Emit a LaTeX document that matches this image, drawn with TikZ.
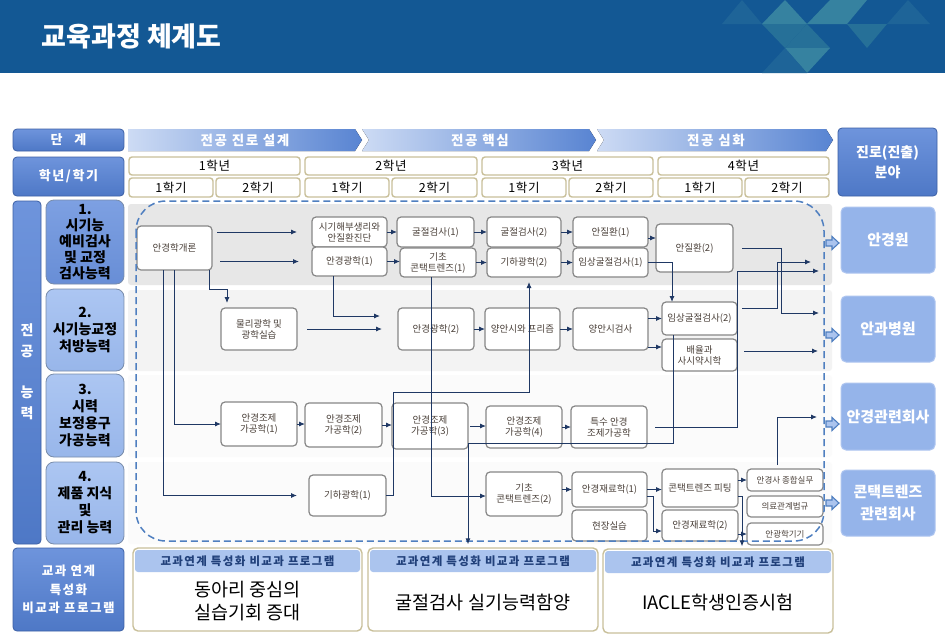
\documentclass[tikz,border=0pt]{standalone}
\usepackage{fontspec}
\setmainfont{Noto Sans CJK KR}
\newfontfamily\wideKR{Noto Sans CJK KR}[LetterSpace=12]
\newfontfamily\lwideKR{Noto Sans CJK KR}[LetterSpace=5]
\usetikzlibrary{arrows.meta,calc}
\definecolor{hdrblue}{RGB}{19,88,148}
\definecolor{decoA}{RGB}{54,130,160}
\definecolor{decoB}{RGB}{38,112,152}
\definecolor{decoC}{RGB}{30,100,152}
\definecolor{navy}{RGB}{31,56,100}
\definecolor{boxblue}{RGB}{78,120,198}
\definecolor{boxblueL}{RGB}{110,148,220}
\definecolor{boxblueD}{RGB}{60,96,165}
\definecolor{compone}{RGB}{104,142,214}
\definecolor{componeL}{RGB}{125,160,226}
\definecolor{comptwo}{RGB}{152,182,234}
\definecolor{comptwoL}{RGB}{172,198,242}
\definecolor{compB}{RGB}{120,140,170}
\definecolor{destc}{RGB}{149,180,234}
\definecolor{destB}{RGB}{175,198,240}
\definecolor{tanb}{RGB}{201,192,154}
\definecolor{cgray}{RGB}{135,135,135}
\definecolor{ctext}{RGB}{75,65,58}
\definecolor{dashblue}{RGB}{79,127,192}
\definecolor{prghdr}{RGB}{171,196,238}
\definecolor{prgtext}{RGB}{33,64,122}
\definecolor{bandone}{RGB}{231,231,231}
\definecolor{bandtwo}{RGB}{243,243,243}
\definecolor{bandthree}{RGB}{251,251,251}
\definecolor{chevL}{RGB}{205,219,244}
\definecolor{chevR}{RGB}{88,132,210}
\tikzset{
 course/.style={draw=cgray,line width=1.2pt,fill=white,rounded corners=4pt,inner sep=0pt,outer sep=0pt,align=center,text=ctext,font=\fontsize{9.5}{11}\selectfont},
 smallc/.style={course,font=\fontsize{8.5}{10}\selectfont},
 arr/.style={draw=navy,line width=0.9pt,-{Latex[length=6pt,width=5pt]}},
 hbox/.style={draw=boxblueD,line width=0.8pt,rounded corners=4pt,top color=boxblueL,bottom color=boxblue,text=white,font=\wideKR\bfseries\fontsize{13}{16}\selectfont,align=center,inner sep=0pt},
 ybox/.style={draw=tanb,line width=1.4pt,fill=white,rounded corners=3pt,inner sep=0pt,font=\lwideKR\fontsize{12.5}{14}\selectfont},
 comp/.style={draw=compB,line width=0.8pt,rounded corners=8pt,inner sep=0pt,align=center,font=\bfseries\fontsize{14}{17}\selectfont},
 dest/.style={draw=destB,fill=destc,line width=1pt,rounded corners=5pt,text=white,align=center,inner sep=0pt,font=\bfseries\fontsize{15}{22}\selectfont},
 prog/.style={draw=tanb,line width=1.4pt,fill=white,rounded corners=5pt,inner sep=0pt},
 chevtext/.style={text=white,font=\wideKR\bfseries\fontsize{13.5}{15}\selectfont},
 prghead/.style={text=prgtext,font=\wideKR\bfseries\fontsize{11.5}{13}\selectfont},
 prgbody/.style={text=black,align=center,font=\fontsize{18.5}{23}\selectfont},
}
\newcommand\bx[7]{\node[#1,minimum width={(#5-#3)*1pt},minimum height={(#6-#4)*1pt}] (#2) at ({(#3+#5)/2},{(#4+#6)/2}) {#7};}
\begin{document}
\begin{tikzpicture}[x=1pt,y=-1pt]
\useasboundingbox (0,0) rectangle (945,640);
\fill[white] (0,0) rectangle (945,640);
% header bar
\fill[hdrblue] (0,0) rectangle (945,73);
\fill[decoC] (722,24) -- (762,24) -- (742,0) -- cycle;
\fill[decoA] (762,24) -- (807,24) -- (785,0) -- cycle;
\fill[decoB] (762,24) -- (807,24) -- (785,48) -- cycle;
\fill[decoA] (807,24) -- (830,0) -- (867,0) -- (847,24) -- cycle;
\fill[decoB] (847,24) -- (887,24) -- (867,48) -- cycle;
\fill[decoB] (785,48) -- (830,48) -- (807,24) -- cycle;
\fill[decoA] (785,48) -- (830,48) -- (807,73) -- cycle;
\fill[decoC] (762,73) -- (785,48) -- (807,73) -- cycle;
\fill[decoC] (887,24) -- (930,24) -- (908,0) -- cycle;
\node[anchor=west,text=white,font=\bfseries\fontsize{27}{30}\selectfont] (title) at (38,36) {교육과정 체계도};
% stage row
\bx{hbox}{hstage}{13}{129}{124}{151}{단\hspace{12pt}계}
\fill[left color=chevL,right color=chevR] (128,129) -- (355,129) -- (362,140) -- (355,151) -- (128,151) -- cycle;
\fill[left color=chevL,right color=chevR] (362,129) -- (589,129) -- (596,140) -- (589,151) -- (362,151) -- (369,140) -- cycle;
\fill[left color=chevL,right color=chevR] (597,129) -- (826,129) -- (833,140) -- (826,151) -- (597,151) -- (604,140) -- cycle;
\node[chevtext] (st1) at (245,140) {전공 진로 설계};
\node[chevtext] (st2) at (480,140) {전공 핵심};
\node[chevtext] (st3) at (716,140) {전공 심화};
\bx{hbox,font=\bfseries\fontsize{14}{20}\selectfont}{hcareer}{838}{128}{937}{196}{진로(진출)\\분야}
% year row
\bx{hbox}{hyear}{13}{157}{124}{196}{학년/학기}
\bx{ybox}{ya}{129}{157}{300}{175}{1학년}
\bx{ybox}{yb}{305}{157}{477}{175}{2학년}
\bx{ybox}{yc}{482}{157}{653}{175}{3학년}
\bx{ybox}{yd}{658}{157}{829}{175}{4학년}
\bx{ybox}{sa}{129}{178}{213}{197}{1학기}
\bx{ybox}{sb}{216}{178}{300}{197}{2학기}
\bx{ybox}{sc}{305}{178}{389}{197}{1학기}
\bx{ybox}{sd}{392}{178}{477}{197}{2학기}
\bx{ybox}{se}{482}{178}{566}{197}{1학기}
\bx{ybox}{sf}{569}{178}{653}{197}{2학기}
\bx{ybox}{sg}{658}{178}{742}{197}{1학기}
\bx{ybox}{sh}{745}{178}{829}{197}{2학기}
% left bar
\bx{hbox}{hbar}{13}{201}{41}{544}{}
\node[text=white,font=\bfseries\fontsize{14}{16}\selectfont] (la) at (27,330) {전};
\node[text=white,font=\bfseries\fontsize{14}{16}\selectfont] (lb) at (27,352) {공};
\node[text=white,font=\bfseries\fontsize{14}{16}\selectfont] (lc) at (27,392) {능};
\node[text=white,font=\bfseries\fontsize{14}{16}\selectfont] (ld) at (27,413) {력};
% competency boxes
\bx{comp,top color=componeL,bottom color=compone,font=\bfseries\fontsize{14}{16}\selectfont}{ca}{46}{200}{124}{284}{1.\\시기능\\예비검사\\및 교정\\검사능력}
\bx{comp,top color=comptwoL,bottom color=comptwo}{cb}{46}{289}{124}{371}{2.\\시기능교정\\처방능력}
\bx{comp,top color=comptwoL,bottom color=comptwo}{cc}{46}{374}{124}{457}{3.\\시력\\보정용구\\가공능력}
\bx{comp,top color=comptwoL,bottom color=comptwo}{cd}{46}{462}{124}{544}{4.\\제품 지식\\및\\관리 능력}
% bands
\fill[bandone,rounded corners=3pt] (128,204) rectangle (832,285);
\fill[bandtwo,rounded corners=3pt] (128,290) rectangle (832,371);
\fill[bandthree,rounded corners=3pt] (128,375) rectangle (832,457);
\fill[bandthree,rounded corners=3pt] (128,462) rectangle (832,544);
% destination boxes
\bx{dest}{da}{841}{207}{935}{273}{안경원}
\bx{dest}{db}{841}{296}{935}{362}{안과병원}
\bx{dest}{dc}{841}{383}{935}{450}{안경관련회사}
\bx{dest}{dd}{841}{470}{935}{536}{콘택트렌즈\\관련회사}
% courses
\bx{course}{gaeron}{137}{226}{212}{270}{안경학개론}
\bx{course}{mulli}{221}{308}{297}{350}{물리광학 및\\광학실습}
\bx{course}{sigi}{312}{217}{387}{247}{시기해부생리와\\안질환진단}
\bx{course}{gk1}{312}{247}{387}{276}{안경광학(1)}
\bx{course}{gul1}{397}{217}{474}{247}{굴절검사(1)}
\bx{course}{cl1}{400}{248}{476}{277}{기초\\콘택트렌즈(1)}
\bx{course}{gul2}{487}{217}{561}{247}{굴절검사(2)}
\bx{course}{giha2}{487}{248}{561}{277}{기하광학(2)}
\bx{course}{anj1}{573}{217}{648}{247}{안질환(1)}
\bx{course}{im1}{573}{248}{648}{277}{임상굴절검사(1)}
\bx{course}{anj2}{656}{224}{733}{272}{안질환(2)}
\bx{course}{gk2}{398}{308}{474}{350}{안경광학(2)}
\bx{course}{yangp}{485}{308}{560}{350}{양안시와 프리즘}
\bx{course}{yangg}{573}{308}{648}{350}{양안시검사}
\bx{course}{im2}{662}{302}{737}{335}{임상굴절검사(2)}
\bx{course}{bae}{662}{339}{737}{371}{배율과\\사시약시학}
\bx{course}{jo1}{221}{402}{297}{446}{안경조제\\가공학(1)}
\bx{course}{jo2}{305}{403}{382}{447}{안경조제\\가공학(2)}
\bx{course}{jo3}{392}{403}{468}{449}{안경조제\\가공학(3)}
\bx{course}{jo4}{486}{406}{562}{448}{안경조제\\가공학(4)}
\bx{course}{teuk}{571}{406}{647}{448}{특수 안경\\조제가공학}
\bx{course}{giha1}{309}{475}{386}{516}{기하광학(1)}
\bx{course}{cl2}{486}{472}{562}{516}{기초\\콘택트렌즈(2)}
\bx{course}{jae1}{572}{472}{647}{507}{안경재료학(1)}
\bx{course}{hyun}{572}{510}{647}{541}{현장실습}
\bx{course}{clfit}{662}{469}{738}{507}{콘택트렌즈 피팅}
\bx{course}{jae2}{662}{510}{738}{541}{안경재료학(2)}
\bx{smallc}{jong}{747}{469}{823}{491}{안경사 종합실무}
\bx{smallc}{bup}{747}{496}{823}{517}{의료관계법규}
\bx{smallc}{gigi}{747}{523}{823}{545}{안광학기기}
% dashed boundary
\draw[dashblue,line width=1.5pt,dash pattern=on 7pt off 4pt,rounded corners=30pt] (136,201) rectangle (824,541);
% hollow arrows to destinations
\foreach \yy in {243,335,424,503}{
 \draw[dashblue,fill=prghdr,line width=1.1pt] (826,\yy-3) -- (832,\yy-3) -- (832,\yy-6.5) -- (839,\yy) -- (832,\yy+6.5) -- (832,\yy+3) -- (826,\yy+3) -- cycle;
}
% program row
\bx{hbox,font=\wideKR\bfseries\fontsize{12.5}{18.5}\selectfont}{hprog}{13}{548}{124}{631}{교과 연계\\특성화\\비교과 프로그램}
\bx{prog}{prog1}{133}{548}{362}{631}{}
\bx{prog}{prog2}{368}{548}{598}{631}{}
\bx{prog}{prog3}{603}{549}{833}{633}{}
\fill[prghdr,rounded corners=3pt] (135,550) rectangle (360,572);
\fill[prghdr,rounded corners=3pt] (370,550) rectangle (596,572);
\fill[prghdr,rounded corners=3pt] (605,551) rectangle (831,573);
\node[prghead] (ph1) at (247.5,561) {교과연계 특성화 비교과 프로그램};
\node[prghead] (ph2) at (483,561) {교과연계 특성화 비교과 프로그램};
\node[prghead] (ph3) at (718,562) {교과연계 특성화 비교과 프로그램};
\node[prgbody] (pb1) at (247.5,601.5) {동아리 중심의\\실습기회 증대};
\node[prgbody] (pb2) at (483,603) {굴절검사 실기능력함양};
\node[prgbody] (pb3) at (718,602) {IACLE학생인증시험};
% connectors
\draw[arr,shorten >=15pt] ([xshift=5pt]gaeron.east |- sigi.west) -- (sigi.west);
\draw[arr,shorten >=13pt] ([xshift=8pt]gaeron.east |- gk1.west) -- (gk1.west);
\draw[arr,shorten >=5pt] ([xshift=-3pt]gaeron.south east) -- ++(0,19) -| ([xshift=6pt]mulli.north west);
\draw[arr] ([xshift=37pt]gaeron.south west) |- (jo1.west);
\draw[arr,shorten >=12pt] ([xshift=26pt]gaeron.south west) |- (giha1.west);
\draw[arr,shorten <=10pt,shorten >=16pt] (mulli.east) -- (gk2.west);
\draw[arr,shorten >=18pt] ([xshift=21pt]gk1.south west) |- ([yshift=13pt]gk2.west);
\draw[arr] (sigi.east) -- (gul1.west);
\draw[arr] (gk1.east) -- (gk1.east -| cl1.west);
\draw[arr] (gul1.east) -- (gul2.west);
\draw[arr] (cl1.east) -- (cl1.east -| giha2.west);
\draw[arr] (gul2.east) -- (anj1.west);
\draw[arr] (giha2.east) -- (im1.west);
\draw[arr] ([yshift=-6pt]anj1.east) -- ([yshift=-6pt]anj1.east -| anj2.west);
\draw[arr] (im1.east) -| ([xshift=10pt]im2.north west);
\draw[arr] (gk2.east) -- (yangp.west);
\draw[arr] (yangp.east) -- (yangg.west);
\draw[arr] (yangg.east |- im2.west) -- (im2.west);
\draw[arr] ([yshift=-18pt]yangg.east) -- ([yshift=-18pt]yangg.east -| bae.west);
\draw[arr] ([xshift=31pt]cl1.south west) |- ([yshift=-2pt]cl2.west);
\coordinate (k1) at (529,392);
\draw[arr,shorten >=5pt] (giha1.east) -- ++(7,0) |- (k1) -- (k1 |- giha2.south);
\coordinate (k2) at (468,443);
\draw[arr,shorten >=3pt] ([xshift=11pt]im2.south west) |- (k2) -- (k2 |- prog2.north);
\draw[arr] (jo1.east) -- (jo1.east -| jo2.west);
\draw[arr] (jo2.east) -- (jo2.east -| jo3.west);
\draw[arr,shorten <=2pt] (jo3.east) -- (jo3.east -| jo4.west);
\draw[arr] (jo4.east) -- (jo4.east -| teuk.west);
\draw[arr] (jae1.west -| cl2.east) -- (jae1.west);
\draw[arr] (jae1.east) -- (jae1.east -| clfit.west);
\draw[arr] ([yshift=-6.5pt]jae1.east) -- ++(6,0) |- ([yshift=-5.5pt]jae2.west);
\draw[arr] (clfit.east |- jong.west) -- (jong.west);
\coordinate (k3) at (742,496);
\draw[arr,shorten >=2pt] (k3 -| clfit.east) -- (k3) -- (k3 |- prog3.north);
\draw[arr] (jae2.east |- gigi.west) -- (gigi.west);
\coordinate (e1a) at (811,262);
\coordinate (e1b) at (819,271);
\coordinate (e2a) at (819,313);
\coordinate (e2b) at (818,351);
\coordinate (e3) at (817,417);
\draw[arr] ([xshift=5pt,yshift=10pt]im2.east) -- ++(35,0) |- (e1a);
\draw[arr] ([xshift=9pt]anj2.east) -- ++(39,0) |- (e2a);
\draw[arr] ([xshift=8pt]teuk.east) -- ++(82,0) |- (e1b);
\draw[arr] ([xshift=7pt]bae.east |- e2b) -- (e2b);
\draw[arr] ([xshift=-8pt,yshift=4pt]jong.north) |- (e3);
\end{tikzpicture}
\end{document}
